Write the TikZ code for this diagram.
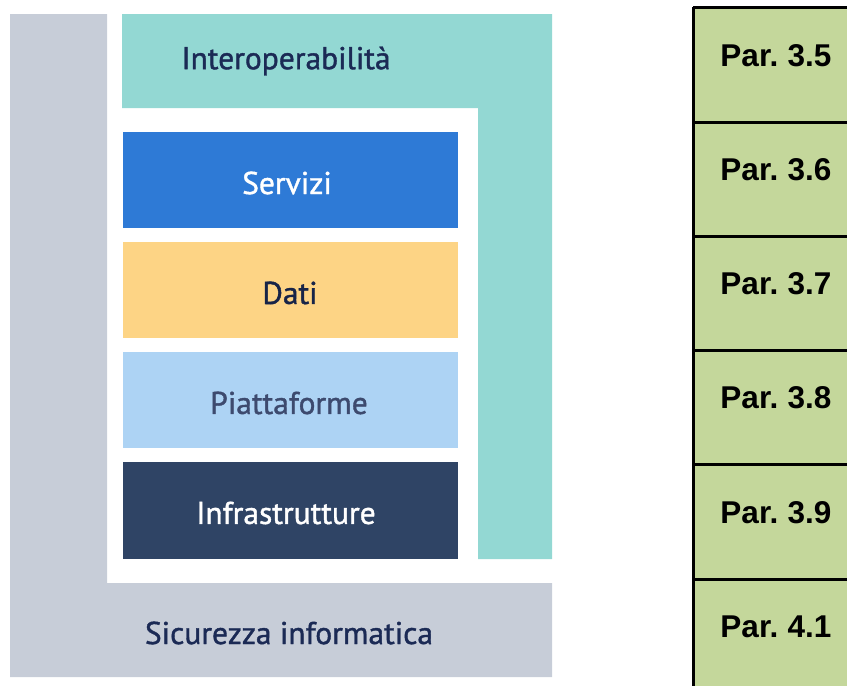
\documentclass[tikz,border=0pt]{standalone}
\usepackage{fontspec}
\setmainfont{Liberation Sans}
\newfontfamily\diagfont[FakeBold=1.2]{PT Sans}
\definecolor{greyL}{HTML}{C7CDD8}
\definecolor{tealL}{HTML}{93D8D3}
\definecolor{servC}{HTML}{2E7AD6}
\definecolor{datiC}{HTML}{FDD485}
\definecolor{piatC}{HTML}{ADD3F4}
\definecolor{infrC}{HTML}{2F4465}
\definecolor{navyT}{HTML}{1B2A55}
\definecolor{tabG}{HTML}{C4D79B}
\newcommand{\parlab}[1]{Par.\hspace{0.3em}#1}
\begin{document}
\begin{tikzpicture}[x=1pt,y=-1pt,
  ltext/.style={font=\diagfont\fontsize{31.5}{34}\selectfont,text=navyT,inner sep=0pt,anchor=center},
  ptext/.style={font=\bfseries\fontsize{31.5}{34}\selectfont,text=black,inner sep=0pt,anchor=center},
  rowline/.style={draw=black,line width=3pt}]
\useasboundingbox (0,0) rectangle (847,686);
% grey L (security)
\fill[greyL] (10,14) -- (107,14) -- (107,583) -- (552,583) -- (552,677) -- (10,677) -- cycle;
% teal inverse L (interoperability)
\fill[tealL] (122,14) -- (552,14) -- (552,559) -- (478,559) -- (478,108) -- (122,108) -- cycle;
% layers
\fill[servC] (123,132) rectangle (458,228);
\fill[datiC] (123,242) rectangle (458,338);
\fill[piatC] (123,352) rectangle (458,448);
\fill[infrC] (123,462) rectangle (458,559);
\node[ltext] (interop) at (286,61) {Interoperabilità};
\node[ltext,text=white] (serv) at (287,183) {Servizi};
\node[ltext,text=navyT!85!black] (dati) at (290,293) {Dati};
\node[ltext,text=navyT!85!white] (piat) at (289,403) {Piattaforme};
\node[ltext,text=white] (infr) at (286,513) {Infrastrutture};
\node[ltext] (sic) at (289,633) {Sicurezza informatica};
% table
\fill[tabG] (693,7) rectangle (870,700);
\draw[rowline] (693,7) -- (870,7);
\draw[rowline] (693,7) -- (693,700);
\foreach \yy in {122,236,350,464,579} {\draw[rowline] (693,\yy) -- (870,\yy);}
\node[ptext] (p35) at (776,56) {\parlab{3.5}};
\node[ptext] (p36) at (776,170) {\parlab{3.6}};
\node[ptext] (p37) at (776,284) {\parlab{3.7}};
\node[ptext] (p38) at (776,398) {\parlab{3.8}};
\node[ptext] (p39) at (776,513) {\parlab{3.9}};
\node[ptext] (p41) at (776,627) {\parlab{4.1}};
\end{tikzpicture}
\end{document}
